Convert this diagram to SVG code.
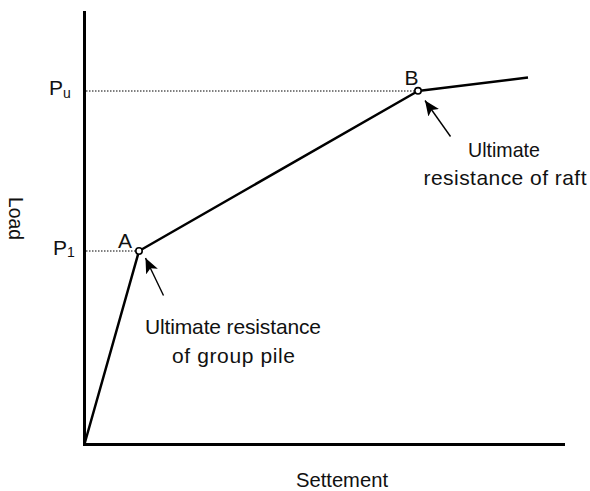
<svg xmlns="http://www.w3.org/2000/svg" width="590" height="491" viewBox="0 0 590 491">
<defs>
<marker id="arr" markerUnits="userSpaceOnUse" markerWidth="16" markerHeight="14" refX="15" refY="6.5" orient="auto">
<path d="M0,0 L15,6.5 L0,13 L3.5,6.5 Z" fill="#000"/>
</marker>
</defs>
<style>
text{font-family:"Liberation Sans",Arial,sans-serif;font-size:21px;fill:#111}
.sub{font-size:14px}
.axis{stroke:#000;stroke-width:3;fill:none}
.curve{stroke:#000;stroke-width:2.5;fill:none;stroke-linejoin:round}
.dot{stroke:#000;stroke-width:1;stroke-dasharray:1.5 1.5;fill:none}
.pt{fill:#fff;stroke:#000;stroke-width:1.6}
.ptr{stroke:#000;stroke-width:1.4;fill:none}
</style>
<rect width="590" height="491" fill="#fff"/>
<g id="axes">
<path class="axis" d="M84.5,11 V444.5 H565"/>
<text x="296" y="487" textLength="92" lengthAdjust="spacingAndGlyphs">Settement</text>
<text transform="translate(8.5,197) rotate(90)" textLength="43" lengthAdjust="spacingAndGlyphs">Load</text>
<text x="49" y="95">P<tspan class="sub" dy="2.5">u</tspan></text>
<text x="53" y="255">P<tspan class="sub" dy="1.5">1</tspan></text>
</g>
<g id="connectors">
<path class="dot" d="M86,91 H415"/>
<path class="dot" d="M86,251 H136"/>
<path class="curve" d="M84.5,444 L139,251 L418,91 L528,77.5"/>
<line class="ptr" x1="163.5" y1="295.5" x2="145.5" y2="258" marker-end="url(#arr)"/>
<line class="ptr" x1="450.5" y1="136.5" x2="425" y2="100.5" marker-end="url(#arr)"/>
</g>
<g id="nodeA">
<circle class="pt" cx="139" cy="251" r="3.2"/>
<text x="118" y="247.5">A</text>
</g>
<g id="nodeB">
<circle class="pt" cx="418" cy="90.8" r="3.2"/>
<text x="404.5" y="85">B</text>
</g>
<g id="labelA">
<text x="145" y="334" textLength="176" lengthAdjust="spacing">Ultimate resistance</text>
<text x="172" y="363" textLength="123" lengthAdjust="spacing">of group pile</text>
</g>
<g id="labelB">
<text x="468" y="157" textLength="72" lengthAdjust="spacingAndGlyphs">Ultimate</text>
<text x="423.5" y="185" textLength="163" lengthAdjust="spacing">resistance of raft</text>
</g>
</svg>
